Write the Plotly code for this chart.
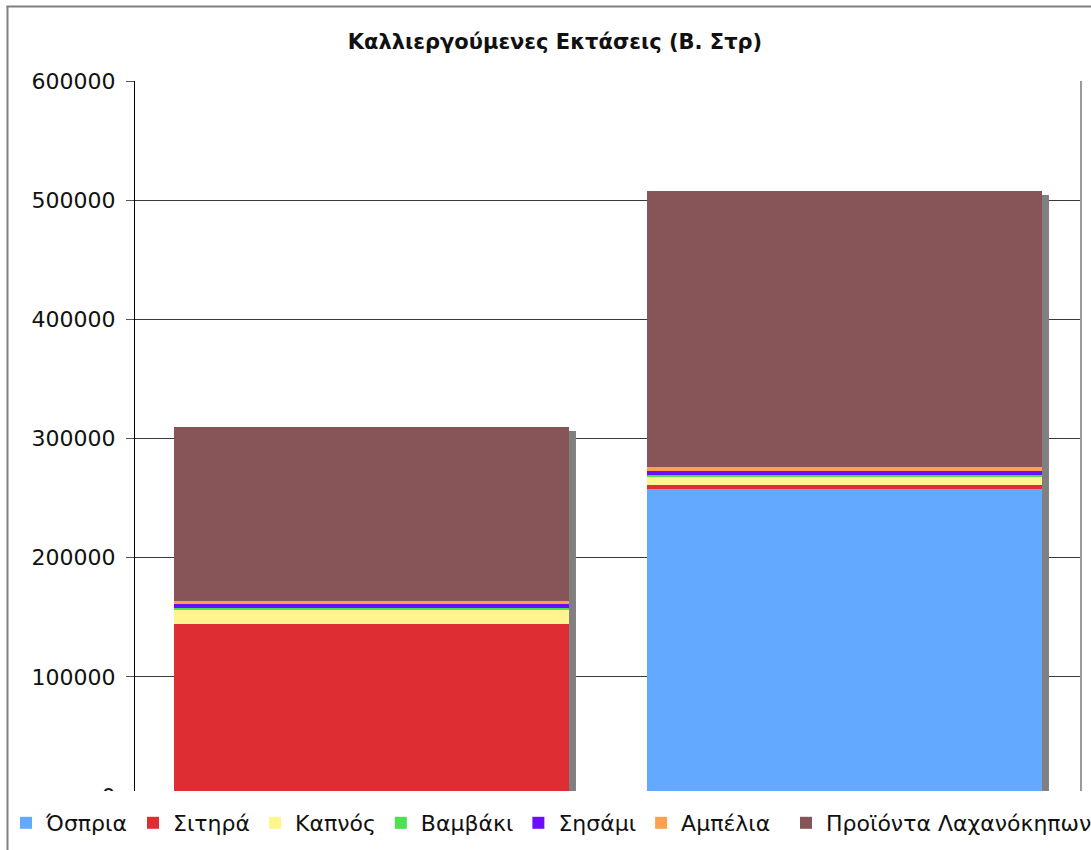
import plotly.graph_objects as go

# Cultivated areas (thousand stremmata) for two periods, stacked by crop
periods = ["Α", "Β"]
crops = ["Όσπρια", "Σιτηρά", "Καπνός", "Βαμβάκι", "Σησάμι", "Αμπέλια", "Προϊόντα Λαχανόκηπων"]
ospria = [0, 257400]
sitira = [144300, 3600]
kapnos = [12600, 7000]
vamvaki = [700, 1400]
sisami = [3300, 3300]
ampelia = [2800, 3400]
laxanokipoi = [146000, 231500]

colors = ["#63A9FF", "#DE2D33", "#FFF48D", "#4FE04F", "#6B0EFF", "#FFA04D", "#875557"]
series = [ospria, sitira, kapnos, vamvaki, sisami, ampelia, laxanokipoi]

W, H = 1091, 850
L, R, T, B = 135, 1081, 81, 796
plot_w, plot_h = R - L, B - T
y_max = 600000
bar_w = 0.835

fig = go.Figure()
for i, (name, vals, col) in enumerate(zip(crops, series, colors)):
    fig.add_trace(go.Bar(
        x=list(range(len(periods))), y=vals, name=name,
        marker=dict(color=col, line=dict(width=0)),
        width=bar_w,
        legend="legend2" if i == len(crops) - 1 else "legend",
    ))

# drop shadows behind each stacked column
totals = [sum(s[k] for s in series) for k in range(len(periods))]
dx = 7 / (plot_w / len(periods))
dy = 4 * y_max / plot_h
shapes = []
for k, tot in enumerate(totals):
    shapes.append(dict(type="rect", xref="x", yref="y", layer="between",
                       x0=k - bar_w / 2 + dx, x1=k + bar_w / 2 + dx,
                       y0=0, y1=tot - dy, fillcolor="#808080", line=dict(width=0)))

def px_x(p):
    return (p - L) / plot_w

def px_y(p):
    return (B - p) / plot_h

# right edge of plot area
shapes.append(dict(type="line", xref="paper", yref="paper", x0=1, x1=1, y0=0, y1=1,
                   line=dict(color="#9a9a9a", width=2), layer="above"))
# white strip under the legend
shapes.append(dict(type="rect", xref="paper", yref="paper", layer="above",
                   x0=px_x(-20), x1=px_x(W + 20), y0=px_y(H + 20), y1=px_y(791),
                   fillcolor="white", line=dict(width=0)))
# outer chart frame
shapes.append(dict(type="line", xref="paper", yref="paper", layer="above",
                   x0=px_x(7.5), x1=px_x(7.5), y0=px_y(H + 5), y1=px_y(6),
                   line=dict(color="#808080", width=2)))
shapes.append(dict(type="line", xref="paper", yref="paper", layer="above",
                   x0=px_x(6.5), x1=px_x(W + 5), y0=px_y(6.5), y1=px_y(6.5),
                   line=dict(color="#808080", width=2)))

font_family = "DejaVu Sans"
legend_common = dict(orientation="h", xanchor="left", yanchor="middle",
                     bgcolor="rgba(0,0,0,0)", borderwidth=0,
                     font=dict(family=font_family, size=22, color="#111111"),
                     itemclick=False, itemdoubleclick=False, traceorder="normal")

fig.update_layout(
    width=W, height=H,
    margin=dict(l=L, r=W - R, t=T, b=H - B, pad=0, autoexpand=False),
    paper_bgcolor="white", plot_bgcolor="white",
    barmode="stack", bargap=0,
    title=dict(text="<b>Καλλιεργούμενες Εκτάσεις (Β. Στρ)</b>",
               x=555 / W, xref="container", xanchor="center",
               y=1 - 42 / H, yref="container", yanchor="middle",
               font=dict(family=font_family, size=21, color="#111111")),
    xaxis=dict(range=[-0.5, len(periods) - 0.5], showticklabels=False, showgrid=False,
               zeroline=False, showline=False, ticks=""),
    yaxis=dict(range=[0, y_max], dtick=100000, tickformat="d",
               showgrid=True, gridcolor="#3a3a3a", gridwidth=1,
               zeroline=False, showline=True, linecolor="black", linewidth=1,
               ticks="outside", ticklen=8, tickcolor="#555555", tickwidth=1,
               ticklabelstandoff=6,
               tickfont=dict(family=font_family, size=22, color="#111111")),
    legend=dict(x=px_x(6), y=px_y(823), **legend_common),
    legend2=dict(x=px_x(786), y=px_y(823), **legend_common),
    shapes=shapes,
)

fig.write_html("out.html")
